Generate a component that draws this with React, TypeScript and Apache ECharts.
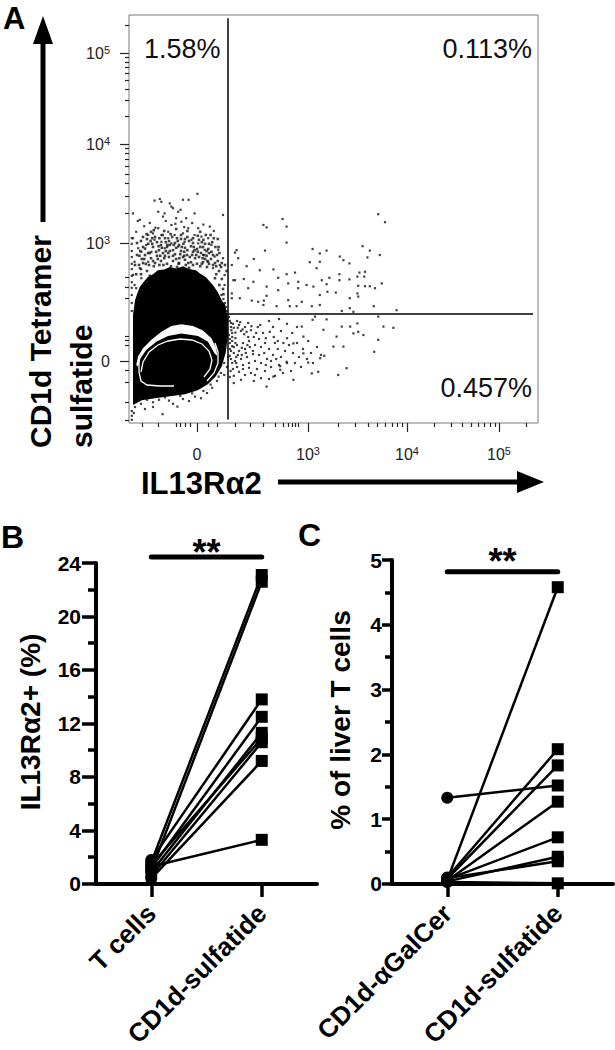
import React, { useEffect, useRef } from "react";
import * as echarts from "echarts";

const FONT = '"Liberation Sans", Arial, Helvetica, sans-serif';

// ---------------- Panel A: flow plot, logicle display channels ----------------
const A_X_MAX = 1022.5;
const A_Y_MAX = 1020;

const aXTickValues = [170, 447.5, 695, 925];
const aXTickLabels = ["0", "10^3", "10^4", "10^5"];
const aYTickValues = [155, 450, 697.5, 925];
const aYTickLabels = ["0", "10^3", "10^4", "10^5"];

const aXMinorTicks = [32, 72, 118, 128, 140, 152, 198, 220, 265, 302, 335, 365, 385, 398, 408, 415, 422,
  522, 566, 597, 620, 640, 657, 671, 684, 764, 805, 833, 856, 874, 889, 903, 915, 994];
const aYMinorTicks = [8, 52, 102, 132, 195, 208, 216, 312, 340, 365,
  525, 568, 599, 623, 643, 659, 674, 686, 766, 806, 834, 857, 875, 890, 903, 915, 994];

// quadrant gates
const gateVertical = [[247.5, 9], [247.5, 1012]];
const gateHorizontal = [[11, 272.5], [1010, 272.5]];

const quadrantLabels = [
  { text: "1.58%", x: 37.5, y: 935, align: "left" },
  { text: "0.113%", x: 1007.5, y: 935, align: "right" },
  { text: "0.457%", x: 1007.5, y: 87.5, align: "right" },
];

// dense population (filled density region)
const densityRegion = [[10, 45], [32, 57], [65, 62], [102, 67], [140, 72], [172, 82], [197, 97], [217, 117],
  [232, 142], [242, 177], [247, 217], [247, 262], [240, 297], [233, 305], [227, 317], [220, 330], [212, 342],
  [205, 350], [192, 365], [180, 372], [167, 382], [150, 385], [135, 392], [118, 386], [102, 390], [88, 384],
  [72, 382], [60, 372], [47, 365], [36, 352], [27, 340], [20, 322], [15, 307], [10, 270], [10, 182]];

// contour band (white) of the main population
const contourBand = [[18, 145], [22.5, 166], [35, 187], [56, 208], [81, 228], [106, 242.5], [131, 247],
  [160, 242.5], [185, 231], [206, 212], [218, 187], [221, 167.5],
  [214, 174], [197.5, 203], [172.5, 217.5], [131, 224], [97.5, 217.5], [68, 203], [43, 182.5], [29, 162], [22.5, 141]];

const contourRing1 = [[30, 127.5], [35, 152.5], [50, 177.5], [72.5, 195], [97.5, 205], [127.5, 210], [157.5, 207.5],
  [182.5, 197.5], [200, 180], [207.5, 157.5], [202.5, 135], [187.5, 115]];
const contourRing2 = [[25, 162.5], [25, 127.5], [30, 105], [45, 95], [77.5, 92.5], [112.5, 92.5]];
const contourRing3 = [[215, 200], [222.5, 177.5], [222.5, 150], [212.5, 125], [195, 105]];

// events
const plumeSparse = [[171, 573], [64, 556], [77, 560], [81, 553], [102, 549], [106, 541], [135, 558], [149, 558],
  [10, 524], [27, 508], [73, 528], [85, 516], [89, 524], [110, 537], [123, 528], [129, 533], [164, 524], [118, 512],
  [131, 503], [143, 512], [148, 487], [173, 487], [202, 491], [235, 520], [18, 478], [48, 470], [60, 474], [73, 487],
  [81, 470], [98, 478], [106, 495], [43, 445], [64, 458], [81, 453], [98, 462], [114, 470], [135, 474], [164, 470],
  [181, 466], [198, 462], [206, 445], [223, 433], [235, 412], [10, 462], [23, 437], [31, 428], [14, 403], [10, 370],
  [27, 387], [48, 403], [56, 428], [89, 437], [106, 449], [123, 441], [139, 453], [156, 458], [173, 449], [189, 433],
  [214, 416], [227, 395], [239, 370], [239, 345], [231, 320], [31, 362], [18, 337], [23, 308], [14, 345], [210, 387],
  [198, 403], [185, 420],
  [22, 505], [38, 492], [52, 500], [66, 488], [92, 505], [116, 498], [138, 490], [158, 500], [186, 496], [212, 480]];
const plumeDense = [[40, 420], [55, 412], [70, 418], [85, 425], [100, 415], [115, 422], [130, 430], [145, 420],
  [160, 428], [175, 415], [190, 410], [60, 440], [75, 432], [95, 440], [110, 432], [125, 445], [140, 438], [155, 442],
  [170, 435], [185, 440], [200, 425], [50, 395], [65, 400], [80, 405], [95, 398], [110, 405], [125, 400], [140, 408],
  [155, 402], [170, 398], [185, 402], [200, 398], [215, 400], [35, 400], [45, 380], [30, 385], [205, 410], [220, 420],
  [100, 455], [115, 450], [150, 455], [80, 445], [65, 465], [90, 462], [130, 460], [175, 458], [190, 448], [45, 460],
  [35, 440], [20, 420], [225, 380], [232, 360], [235, 335], [218, 372], [48, 425], [88, 412], [135, 415], [165, 412],
  [180, 425], [120, 390], [150, 388], [195, 390],
  [25, 395], [38, 410], [52, 425], [62, 392], [78, 418], [92, 430], [105, 392], [118, 410], [128, 422], [142, 395],
  [152, 415], [162, 440], [178, 392], [188, 420], [198, 435], [210, 395], [222, 405], [230, 390], [28, 430], [42, 398],
  [58, 448], [72, 410], [86, 395], [98, 425], [112, 445], [126, 412], [138, 428], [148, 400], [158, 420], [172, 428],
  [182, 398], [194, 418], [206, 428], [216, 440], [20, 450], [35, 465], [55, 478], [70, 452], [84, 470], [96, 445],
  [108, 465], [122, 455], [136, 448], [146, 465], [160, 450], [172, 468], [186, 458], [200, 448], [212, 462], [226, 425],
  [232, 400], [240, 395], [244, 380], [30, 372], [52, 368], [44, 352], [215, 362], [226, 345], [236, 322], [18, 372],
  [30, 455], [48, 448], [62, 482], [76, 462], [88, 480], [104, 472], [118, 485], [130, 470], [146, 480], [160, 462],
  [178, 478], [192, 470], [208, 452], [222, 460], [26, 418], [40, 436], [54, 455], [68, 428], [82, 438], [102, 430],
  [118, 438], [132, 440], [146, 432], [164, 432], [178, 440], [194, 430], [210, 420], [224, 440], [15, 395], [32, 410],
  [60, 405], [90, 418], [110, 418], [138, 418], [168, 420], [196, 405], [218, 392], [76, 395], [124, 398], [160, 395],
  [184, 412], [102, 445], [140, 460], [58, 462], [182, 452], [74, 442], [204, 470], [120, 462], [92, 452], [44, 472]];
const leftEdgeEvents = [[7, 462], [7, 448], [7, 430], [7, 415], [7, 398], [7, 385], [7, 368], [7, 352], [7, 338],
  [7, 320], [7, 300], [7, 280], [7, 8], [7, 18], [7, 30]];
const lowerLeftEvents = [[15, 40], [22, 55], [30, 48], [45, 58], [60, 52], [75, 58], [84, 22], [100, 56], [121, 41],
  [135, 60], [150, 55], [165, 66], [180, 62], [195, 75], [208, 88], [220, 105], [230, 125], [238, 150], [12, 25],
  [40, 35], [110, 48], [60, 40], [28, 62], [52, 66], [90, 64], [128, 68], [158, 74], [186, 80], [204, 96], [224, 116]];
const gateEdgeEvents = [[240, 300], [245, 280], [250, 265], [255, 240], [250, 220], [252, 200], [255, 180], [248, 165],
  [245, 140], [238, 120], [242, 290], [236, 310], [258, 215], [262, 190]];
const upperRightEvents = [[623, 522], [640, 502], [384, 510], [336, 495], [344, 489], [394, 491], [394, 451], [269, 432],
  [265, 426], [340, 431], [294, 392], [312, 410], [327, 382], [361, 384], [373, 363], [394, 372], [415, 376], [459, 435],
  [477, 424], [494, 431], [477, 403], [452, 402], [469, 387], [527, 416], [536, 407], [551, 399], [584, 442], [602, 431],
  [596, 414], [627, 420], [590, 378], [576, 376], [571, 366], [588, 366], [526, 372], [501, 363], [551, 359], [526, 357],
  [482, 357], [265, 357], [287, 360], [311, 353], [298, 337], [344, 341], [373, 332], [398, 349], [423, 353], [423, 337],
  [444, 345], [461, 341], [477, 320], [496, 328], [517, 326], [494, 347], [552, 312], [573, 343], [590, 342], [602, 342],
  [615, 337], [571, 324], [573, 316], [632, 349], [612, 292], [669, 282], [552, 287], [532, 280], [561, 278], [477, 295],
  [457, 292], [419, 292], [432, 303], [402, 292], [398, 307], [369, 292], [336, 295], [344, 318], [337, 306], [323, 303],
  [307, 306], [277, 312], [257, 324], [261, 357], [257, 395], [273, 412], [257, 312]];
const lowerRightSparse = [[623, 266], [636, 241], [661, 238], [571, 249], [586, 220], [623, 208], [613, 178], [553, 241],
  [532, 241], [511, 191], [523, 120], [544, 137], [488, 168], [478, 162], [473, 128], [457, 124], [448, 151], [436, 174],
  [411, 108], [378, 133], [344, 91], [361, 116], [394, 153], [411, 199], [465, 266], [436, 216], [486, 233], [519, 216],
  [561, 224], [494, 259], [459, 258], [432, 241], [573, 228], [536, 191]];
const lowerRightDense = [[255, 250], [262, 238], [270, 255], [258, 225], [266, 212], [280, 230], [275, 245], [290, 240],
  [288, 222], [298, 250], [305, 232], [312, 215], [300, 205], [285, 200], [270, 195], [258, 205], [252, 185], [262, 175],
  [275, 180], [290, 185], [302, 190], [315, 195], [325, 210], [335, 225], [322, 240], [340, 200], [350, 185], [338, 175],
  [325, 170], [310, 172], [295, 165], [280, 160], [265, 155], [255, 160], [270, 140], [285, 145], [300, 150], [315, 155],
  [330, 150], [345, 160], [360, 170], [372, 185], [365, 200], [380, 165], [390, 180], [400, 195], [410, 175], [395, 150],
  [375, 145], [355, 140], [340, 130], [320, 135], [305, 125], [290, 120], [275, 128], [260, 135], [415, 150], [425, 165],
  [435, 185], [420, 200], [445, 160], [455, 175], [430, 140], [405, 130], [385, 125], [365, 118], [350, 110], [330, 112],
  [312, 105], [252, 115], [262, 100], [280, 108], [448, 205], [460, 150], [470, 190], [480, 170], [395, 212], [408, 225],
  [380, 230], [360, 240], [350, 255], [375, 260], [395, 248], [420, 240],
  [252, 255], [256, 232], [260, 248], [266, 226], [272, 238], [278, 252], [284, 234], [294, 228], [252, 210], [258, 192],
  [266, 200], [272, 170], [282, 188], [292, 175], [298, 215], [306, 242], [252, 168], [258, 150], [268, 165], [282, 170],
  [296, 195], [310, 180], [318, 225], [328, 245], [254, 130], [262, 118], [268, 150], [285, 135], [300, 138], [315, 120],
  [330, 190], [342, 212], [352, 228], [362, 215], [372, 205], [386, 200], [342, 145], [355, 155], [368, 160], [378, 142]];

// ---------------- Panel B ----------------
const bCategories = ["T cells", "CD1d-sulfatide"];
const bTCells = [1.6, 1.0, 1.8, 1.2, 0.9, 1.4, 0.6, 0.4, 1.3];
const bSulfatide = [23.1, 22.6, 13.8, 12.5, 11.3, 10.9, 10.6, 9.2, 3.3];
const bSignificance = { from: 0, to: 1, y: 24.44, text: "**", gap: 12.5 };

// ---------------- Panel C ----------------
const cCategories = ["CD1d-\u03b1GalCer", "CD1d-sulfatide"];
const cAlphaGalCer = [0.06, 0.1, 0.08, 1.33, 0.05, 0.07, 0.04, 0.09, 0.03];
const cSulfatide = [4.58, 2.08, 1.83, 1.52, 1.27, 0.72, 0.42, 0.35, 0.01];
const cSignificance = { from: 0, to: 1, y: 4.82, text: "**", gap: 18 };

function supLabel(s: string) {
  if (s.indexOf("^") >= 0) {
    const [b, e] = s.split("^");
    return `{n|${b}}{s|${e}}`;
  }
  return `{n|${s}}`;
}
function makeFmt(vals: number[], labels: string[]) {
  return (v: number) => {
    const i = vals.findIndex((t) => Math.abs(t - v) < 0.6);
    return i >= 0 ? supLabel(labels[i]) : "";
  };
}
const richA = {
  n: { fontSize: 16, lineHeight: 18, fontFamily: FONT, color: "#222" },
  s: { fontSize: 11, lineHeight: 9, verticalAlign: "top", fontFamily: FONT, color: "#222" },
};

function areaSeries(pts: number[][], fill: string) {
  return {
    type: "custom", xAxisIndex: 0, yAxisIndex: 0, silent: true, data: [[0, 0]],
    renderItem: (_p: any, api: any) => ({
      type: "polygon", shape: { points: pts.map((q) => api.coord(q)) }, style: { fill, stroke: "none" },
    }),
  };
}
function lineSeries(pts: number[][], stroke: string, width: number) {
  return {
    type: "custom", xAxisIndex: 0, yAxisIndex: 0, silent: true, data: [[0, 0]],
    renderItem: (_p: any, api: any) => ({
      type: "polyline", shape: { points: pts.map((q) => api.coord(q)) }, style: { stroke, lineWidth: width, fill: "none" },
    }),
  };
}
function eventSeries(pts: number[][], size = 2.2) {
  return {
    type: "scatter", xAxisIndex: 0, yAxisIndex: 0, silent: true, symbol: "rect", symbolSize: size,
    itemStyle: { color: "#111" }, data: pts,
  };
}
function sigSeries(sig: any, axisIdx: number) {
  return {
    type: "custom", xAxisIndex: axisIdx, yAxisIndex: axisIdx, silent: true, data: [[sig.from, sig.y]],
    renderItem: (_p: any, api: any) => {
      const p0 = api.coord([sig.from, sig.y]);
      const p1 = api.coord([sig.to, sig.y]);
      return {
        type: "group",
        children: [
          { type: "line", shape: { x1: p0[0], y1: p0[1], x2: p1[0], y2: p1[1] }, style: { stroke: "#000", lineWidth: 5, lineCap: "round" } },
          { type: "text", x: (p0[0] + p1[0]) / 2, y: p0[1] - sig.gap + 7.5,
            style: { text: sig.text, font: `bold 36px ${FONT}`, fill: "#000", align: "center", verticalAlign: "middle" } },
        ],
      };
    },
  };
}
function pairSeries(a: number[], b: number[], axisIdx: number) {
  return a.map((v, i) => ({
    type: "line", xAxisIndex: axisIdx, yAxisIndex: axisIdx, silent: true,
    data: [{ value: v, symbol: "circle" }, { value: b[i], symbol: "rect" }],
    symbolSize: 12, showSymbol: true,
    lineStyle: { color: "#000", width: 2.5 }, itemStyle: { color: "#000" },
  }));
}

function buildOption() {
  const catAxis = (grid: number, cats: string[]) => ({
    type: "category", gridIndex: grid, data: cats, boundaryGap: true,
    axisLine: { show: true, onZero: false, lineStyle: { color: "#000", width: 4 } },
    axisTick: { show: true, alignWithLabel: true, length: 13, lineStyle: { color: "#000", width: 3.5 } },
    axisLabel: { rotate: 45, margin: 25, fontSize: 26, fontWeight: "bold", fontFamily: FONT, color: "#000", interval: 0 },
    splitLine: { show: false },
  });
  const valAxis = (grid: number, max: number, interval: number, major: number, minor: number, margin: number) => ({
    type: "value", gridIndex: grid, min: 0, max, interval,
    axisLine: { show: true, lineStyle: { color: "#000", width: 4 } },
    axisTick: { show: true, length: major, lineStyle: { color: "#000", width: 3.5 } },
    minorTick: { show: true, splitNumber: 2, length: minor, lineStyle: { color: "#000", width: 3.5 } },
    axisLabel: { margin, fontSize: 21, fontWeight: "bold", fontFamily: FONT, color: "#000" },
    splitLine: { show: false }, minorSplitLine: { show: false },
  });

  return {
    animation: false,
    backgroundColor: "#fff",
    grid: [
      { left: 129, top: 15, width: 409, height: 408, show: true, borderColor: "#7a7a7a", borderWidth: 1, backgroundColor: "transparent" },
      { left: 96, top: 563, width: 221, height: 330 },
      { left: 392, top: 560, width: 221, height: 334 },
    ],
    xAxis: [
      {
        type: "value", gridIndex: 0, min: 0, max: A_X_MAX, position: "bottom",
        axisLine: { show: false, onZero: false },
        axisTick: { show: true, customValues: aXTickValues, length: 9, lineStyle: { color: "#222", width: 1.2 } },
        axisLabel: { show: true, customValues: aXTickValues, formatter: makeFmt(aXTickValues, aXTickLabels), rich: richA, margin: 22 },
        splitLine: { show: false },
      },
      {
        type: "value", gridIndex: 0, min: 0, max: A_X_MAX, position: "bottom",
        axisLine: { show: false, onZero: false },
        axisTick: { show: true, customValues: aXMinorTicks, length: 4, lineStyle: { color: "#222", width: 1.2 } },
        axisLabel: { show: false }, splitLine: { show: false },
      },
      catAxis(1, bCategories),
      catAxis(2, cCategories),
    ],
    yAxis: [
      {
        type: "value", gridIndex: 0, min: 0, max: A_Y_MAX, position: "left",
        axisLine: { show: false, onZero: false },
        axisTick: { show: true, customValues: aYTickValues, length: 9, lineStyle: { color: "#222", width: 1.2 } },
        axisLabel: { show: true, customValues: aYTickValues, formatter: makeFmt(aYTickValues, aYTickLabels), rich: richA, margin: 19 },
        splitLine: { show: false },
      },
      {
        type: "value", gridIndex: 0, min: 0, max: A_Y_MAX, position: "left",
        axisLine: { show: false, onZero: false },
        axisTick: { show: true, customValues: aYMinorTicks, length: 4, lineStyle: { color: "#222", width: 1.2 } },
        axisLabel: { show: false }, splitLine: { show: false },
      },
      valAxis(1, 24, 4, 14, 8, 15),
      valAxis(2, 5, 1, 10, 7, 10),
    ],
    series: [
      areaSeries(densityRegion, "#000"),
      eventSeries(plumeSparse),
      eventSeries(plumeDense, 2.6),
      eventSeries(leftEdgeEvents),
      eventSeries(lowerLeftEvents),
      eventSeries(gateEdgeEvents),
      eventSeries(upperRightEvents),
      eventSeries(lowerRightSparse),
      eventSeries(lowerRightDense),
      areaSeries(contourBand, "#fff"),
      lineSeries(contourRing1, "#fff", 1.3),
      lineSeries(contourRing2, "#fff", 1.3),
      lineSeries(contourRing3, "#fff", 1.3),
      lineSeries(gateVertical, "#000", 1.5),
      lineSeries(gateHorizontal, "#000", 1.5),
      {
        type: "custom", xAxisIndex: 0, yAxisIndex: 0, silent: true,
        data: quadrantLabels.map((q) => [q.x, q.y]),
        renderItem: (p: any, api: any) => {
          const q = quadrantLabels[p.dataIndex];
          const c = api.coord([q.x, q.y]);
          return { type: "text", x: c[0], y: c[1], style: { text: q.text, font: `27px ${FONT}`, fill: "#111", align: q.align, verticalAlign: "middle" } };
        },
      },
      ...pairSeries(bTCells, bSulfatide, 2),
      sigSeries(bSignificance, 2),
      ...pairSeries(cAlphaGalCer, cSulfatide, 3),
      sigSeries(cSignificance, 3),
    ],
    graphic: [
      { type: "text", x: 3, y: 18, style: { text: "A", font: `bold 31px ${FONT}`, fill: "#000", align: "left", verticalAlign: "middle" } },
      { type: "text", x: 1, y: 537, style: { text: "B", font: `bold 32px ${FONT}`, fill: "#000", align: "left", verticalAlign: "middle" } },
      { type: "text", x: 298, y: 535, style: { text: "C", font: `bold 32px ${FONT}`, fill: "#000", align: "left", verticalAlign: "middle" } },
      { type: "text", x: 40, y: 448, rotation: Math.PI / 2, style: { text: "CD1d Tetramer", font: `bold 30px ${FONT}`, fill: "#000", align: "left", verticalAlign: "middle" } },
      { type: "text", x: 81, y: 448, rotation: Math.PI / 2, style: { text: "sulfatide", font: `bold 30px ${FONT}`, fill: "#000", align: "left", verticalAlign: "middle" } },
      { type: "line", shape: { x1: 43, y1: 222, x2: 43, y2: 40 }, style: { stroke: "#000", lineWidth: 5 } },
      { type: "polygon", shape: { points: [[43, 16], [33, 44], [53, 44]] }, style: { fill: "#000" } },
      { type: "text", x: 141, y: 483, style: { text: "IL13R\u03b12", font: `bold 31px ${FONT}`, lineHeight: 24, fill: "#000", align: "left", verticalAlign: "middle" } },
      { type: "line", shape: { x1: 278, y1: 482, x2: 522, y2: 482 }, style: { stroke: "#000", lineWidth: 5 } },
      { type: "polygon", shape: { points: [[544, 482], [517, 471], [517, 493]] }, style: { fill: "#000" } },
      { type: "text", x: 30, y: 722, rotation: Math.PI / 2, style: { text: "IL13R\u03b12+ (%)", font: `bold 28px ${FONT}`, fill: "#000", align: "center", verticalAlign: "middle" } },
      { type: "text", x: 340, y: 720, rotation: Math.PI / 2, style: { text: "% of liver T cells", font: `bold 28px ${FONT}`, fill: "#000", align: "center", verticalAlign: "middle" } },
    ],
  };
}

export default function App() {
  const ref = useRef<HTMLDivElement>(null);
  useEffect(() => {
    document.body.style.margin = "0";
    if (!ref.current) return;
    const chart = echarts.init(ref.current, undefined, { renderer: "svg" });
    chart.setOption(buildOption() as any);
    return () => chart.dispose();
  }, []);
  return <div ref={ref} style={{ position: "absolute", left: 0, top: 0, width: 615, height: 1050, background: "#fff" }} />;
}
